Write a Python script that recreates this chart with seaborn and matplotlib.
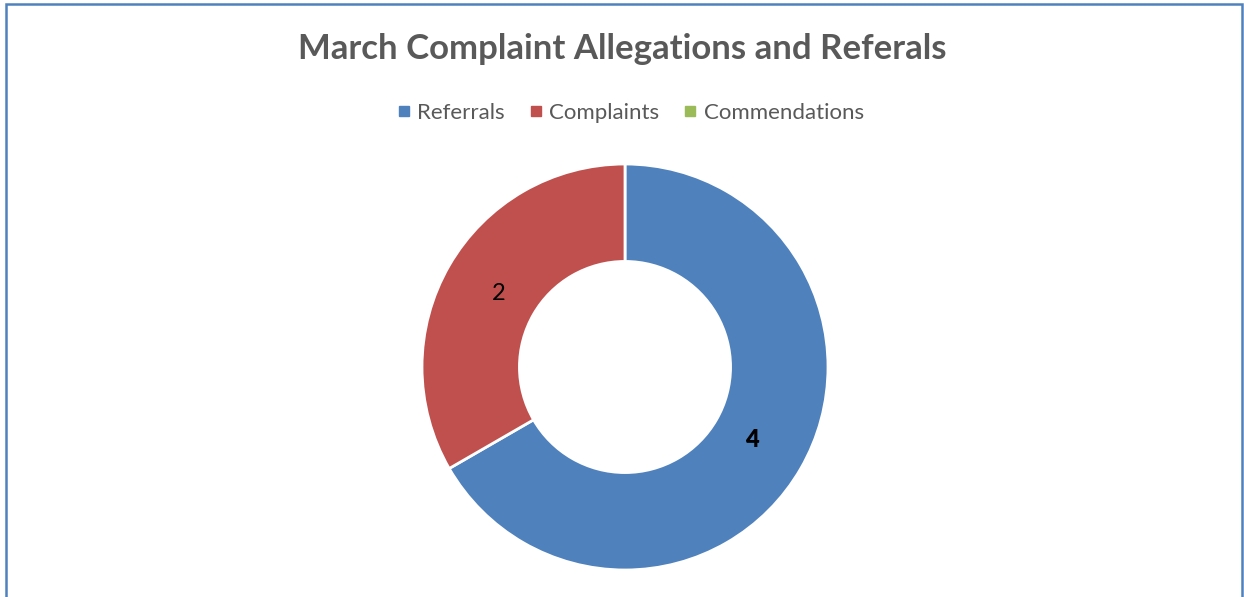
import matplotlib

matplotlib.use("Agg")
import matplotlib.pyplot as plt
import numpy as np
import seaborn as sns
from matplotlib.lines import Line2D
from matplotlib.patches import Rectangle

categories = ["Referrals", "Complaints", "Commendations"]
counts = [4, 2, 0]
colors = ["#4F81BD", "#C0504D", "#9BBB59"]
label_weights = ["heavy", "normal", "normal"]

title = "March Complaint Allegations and Referals"

sns.set_theme(style="white")
plt.rcParams["font.family"] = ["Lato", "DejaVu Sans"]

W, H = 1244, 597
fig = plt.figure(figsize=(W / 100, H / 100), dpi=100)

# chart frame (bottom edge is cut off in the original)
fig.patches.append(
    Rectangle(
        (6 / W, -0.05),
        (1242 - 6) / W,
        (H - 4) / H + 0.05,
        transform=fig.transFigure,
        fill=False,
        edgecolor="#4F81BD",
        linewidth=1.8,
        zorder=10,
    )
)

cx, cy, r = 625, 367, 203
ax = fig.add_axes([(cx - r) / W, (H - cy - r) / H, 2 * r / W, 2 * r / H])

shown = [(v, col, w) for v, col, w in zip(counts, colors, label_weights) if v > 0]
wedges, _ = ax.pie(
    [v for v, _, _ in shown],
    colors=[col for _, col, _ in shown],
    startangle=90,
    counterclock=False,
    radius=1,
    wedgeprops=dict(width=0.48, edgecolor="white", linewidth=2),
)
for wedge, (v, _, weight) in zip(wedges, shown):
    ang = np.deg2rad((wedge.theta1 + wedge.theta2) / 2)
    ax.text(
        0.72 * np.cos(ang),
        0.72 * np.sin(ang),
        str(v),
        ha="center",
        va="center",
        fontsize=17,
        fontweight=weight,
        color="black",
    )
ax.set_xlim(-1, 1)
ax.set_ylim(-1, 1)
ax.set_aspect("equal")
ax.axis("off")

fig.text(0.5, 1 - 49 / H, title, ha="center", va="center", fontsize=25, fontweight="bold", color="#595959")

handles = [
    Line2D([0], [0], marker="s", linestyle="none", markersize=7, markerfacecolor=c, markeredgecolor=c)
    for c in colors
]
fig.legend(
    handles,
    categories,
    loc="center",
    bbox_to_anchor=(0.506, 1 - 113 / H),
    ncol=3,
    frameon=False,
    fontsize=16,
    handlelength=0.8,
    handletextpad=0.2,
    columnspacing=1.0,
    labelcolor="#595959",
)

fig.savefig("out.png", dpi=100, facecolor="white")
